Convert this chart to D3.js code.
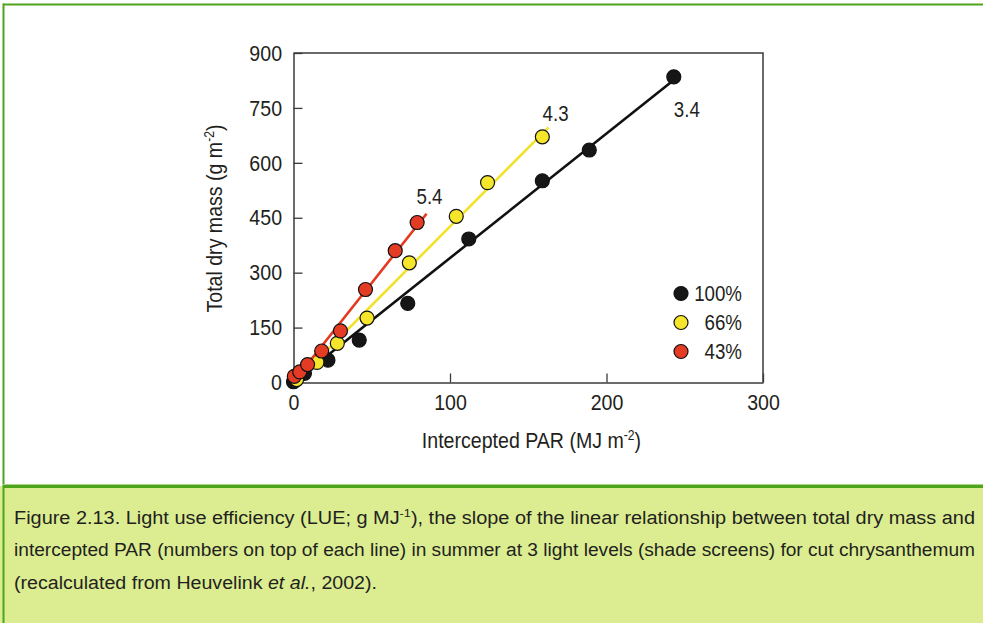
<!DOCTYPE html>
<html>
<head>
<meta charset="utf-8">
<script src="https://cdn.jsdelivr.net/npm/d3@7"></script>
<style>
  html, body { margin: 0; padding: 0; background: #ffffff; }
  svg { display: block; }
  text { font-family: "Liberation Sans", Arial, sans-serif; fill: #231f20; }
</style>
</head>
<body>
<svg id="fig" width="983" height="623"></svg>
<script>
// Shade levels (share of full light)
const seriesNames = ["100%", "66%", "43%"];
// LUE = slope of dry mass vs intercepted PAR (g MJ-1)
const slopes = [3.4, 4.3, 5.4];
const intercepts = [0, -4, 2];
const lineFrom = [1, 3, 0];
const lineTo = [243, 163, 85];

// Intercepted PAR (MJ m-2) and total dry mass (g m-2) per harvest
const parFull = [0, 7, 22, 42, 73, 112, 159, 189, 243];
const dmFull  = [2, 25, 61, 116, 216, 392, 551, 635, 835];
const parMid  = [2, 15, 28, 47, 74, 104, 124, 159];
const dmMid   = [8, 55, 107, 176, 327, 454, 546, 671];
const parLow  = [0.5, 4, 9, 18, 30, 46, 65, 79];
const dmLow   = [17, 29, 49, 86, 141, 254, 360, 437];

const xTicks = [0, 100, 200, 300];
const yTicks = [0, 150, 300, 450, 600, 750, 900];

const captionLines = [
  [{t: "Figure 2.13. Light use efficiency (LUE; g MJ"}, {t: "-1", sup: true}, {t: "), the slope of the linear relationship between total dry mass and"}],
  [{t: "intercepted PAR (numbers on top of each line) in summer at 3 light levels (shade screens) for cut chrysanthemum"}],
  [{t: "(recalculated from Heuvelink "}, {t: "et al.", it: true}, {t: ", 2002)."}]
];

const series = [
  {name: seriesNames[0], x: parFull, y: dmFull},
  {name: seriesNames[1], x: parMid, y: dmMid},
  {name: seriesNames[2], x: parLow, y: dmLow}
].map((s, i) => Object.assign(s, {slope: slopes[i], b: intercepts[i], from: lineFrom[i], to: lineTo[i]}));

// drawing styles
const fills = ["#161616", "#f6e62b", "#e33b24"];
const strokes = ["#111111", "#f2e22a", "#e43a22"];
const labelOffset = [[13, 37], [7, -6], [3, -10]];
const SX = 0.87; // horizontal squeeze for a condensed look

// squeeze a text element horizontally while keeping its anchor point
function narrow(sel) {
  sel.each(function () {
    const t = d3.select(this);
    const x0 = +t.attr("x") || 0;
    const prev = t.attr("transform") || "";
    t.attr("x", x0 / SX).attr("transform", prev + ` scale(${SX},1)`);
  });
}

const svg = d3.select("#fig");
const W = 983, H = 623;

// outer panel border and caption box
const green = "#4ea51c";
svg.append("rect").attr("x", 0).attr("y", 486).attr("width", W).attr("height", H - 486).attr("fill", "#dbed90");
svg.append("line").attr("x1", 3).attr("x2", W).attr("y1", 4.5).attr("y2", 4.5).attr("stroke", green).attr("stroke-width", 2);
svg.append("line").attr("x1", 3.5).attr("x2", 3.5).attr("y1", 3.5).attr("y2", H).attr("stroke", green).attr("stroke-width", 2);
svg.append("line").attr("x1", 3).attr("x2", W).attr("y1", 486.5).attr("y2", 486.5).attr("stroke", green).attr("stroke-width", 3);
svg.append("line").attr("x1", 3).attr("x2", W).attr("y1", 484.5).attr("y2", 484.5).attr("stroke", "#a9d585").attr("stroke-width", 1);

// scales
const x = d3.scaleLinear().domain([0, 300]).range([293.5, 763]);
const y = d3.scaleLinear().domain([0, 900]).range([382.5, 53]);

const plot = svg.append("g");
const axisColor = "#3a3a3a";

// frame (top and right)
plot.append("path")
  .attr("d", `M${x(0)},${y(900)}H${x(300)}V${y(0)}`)
  .attr("fill", "none").attr("stroke", axisColor).attr("stroke-width", 1.5);

const xAxis = plot.append("g").attr("transform", `translate(0,${y(0)})`)
  .call(d3.axisBottom(x).tickValues(xTicks).tickSizeInner(-9).tickSizeOuter(0).tickPadding(12).tickFormat(d3.format("d")));
const yAxis = plot.append("g").attr("transform", `translate(${x(0)},0)`)
  .call(d3.axisLeft(y).tickValues(yTicks).tickSizeInner(-9).tickSizeOuter(0).tickPadding(11.5).tickFormat(d3.format("d")));
[xAxis, yAxis].forEach(a => {
  a.select(".domain").attr("stroke", axisColor).attr("stroke-width", 1.5);
  a.selectAll(".tick line").attr("stroke", axisColor).attr("stroke-width", 1.3);
  a.selectAll(".tick text").attr("font-size", 22.5).attr("fill", "#231f20")
    .style("font-family", '"Liberation Sans", Arial, sans-serif')
    .call(narrow);
});

// axis titles
const xt = svg.append("text").attr("x", 531.5).attr("y", 448).attr("text-anchor", "middle").attr("font-size", 22.5);
xt.append("tspan").text("Intercepted PAR (MJ m");
xt.append("tspan").attr("font-size", 14).attr("dy", -8).text("-2");
xt.append("tspan").attr("dy", 8).text(")");
narrow(xt);

const yt = svg.append("text").attr("transform", "translate(222,218.5) rotate(-90)").attr("text-anchor", "middle").attr("font-size", 22.5);
yt.append("tspan").text("Total dry mass (g m");
yt.append("tspan").attr("font-size", 14).attr("dy", -8).text("-2");
yt.append("tspan").attr("dy", 8).text(")");
narrow(yt);

// regression lines and points
series.forEach((s, i) => {
  const g = plot.append("g");
  g.append("line")
    .attr("x1", x(s.from)).attr("y1", y(s.slope * s.from + s.b))
    .attr("x2", x(s.to)).attr("y2", y(s.slope * s.to + s.b))
    .attr("stroke", strokes[i]).attr("stroke-width", 2.6);
  g.selectAll("circle").data(s.x.map((v, k) => [v, s.y[k]])).join("circle")
    .attr("cx", d => x(d[0])).attr("cy", d => y(d[1])).attr("r", 7)
    .attr("fill", fills[i]).attr("stroke", "#111").attr("stroke-width", 1.2);
  g.append("text")
    .attr("x", x(s.to) + labelOffset[i][0]).attr("y", y(s.slope * s.to + s.b) + labelOffset[i][1])
    .attr("text-anchor", "middle").attr("font-size", 21.5)
    .text(d3.format(".1f")(s.slope))
    .call(narrow);
});

// legend
const legend = svg.append("g");
series.forEach((s, i) => {
  const cy = 293.5 + i * 29;
  legend.append("circle").attr("cx", 681).attr("cy", cy).attr("r", 7)
    .attr("fill", fills[i]).attr("stroke", "#111").attr("stroke-width", 1.2);
  legend.append("text").attr("x", 742).attr("y", cy + 7.5).attr("text-anchor", "end")
    .attr("font-size", 21.5).text(s.name).call(narrow);
});

// caption
const capWidths = [961, 961, 363];
captionLines.forEach((parts, i) => {
  const t = svg.append("text").attr("x", 14).attr("y", 523.5 + i * 32.5).attr("font-size", 18)
    .attr("textLength", capWidths[i]).attr("lengthAdjust", "spacingAndGlyphs");
  parts.forEach((p, k) => {
    const ts = t.append("tspan").text(p.t);
    if (p.sup) ts.attr("font-size", 11.5).attr("dy", -7);
    else if (p.it) ts.attr("font-style", "italic");
    if (!p.sup && k > 0 && parts[k - 1].sup) ts.attr("dy", 7);
  });
});
</script>
</body>
</html>
